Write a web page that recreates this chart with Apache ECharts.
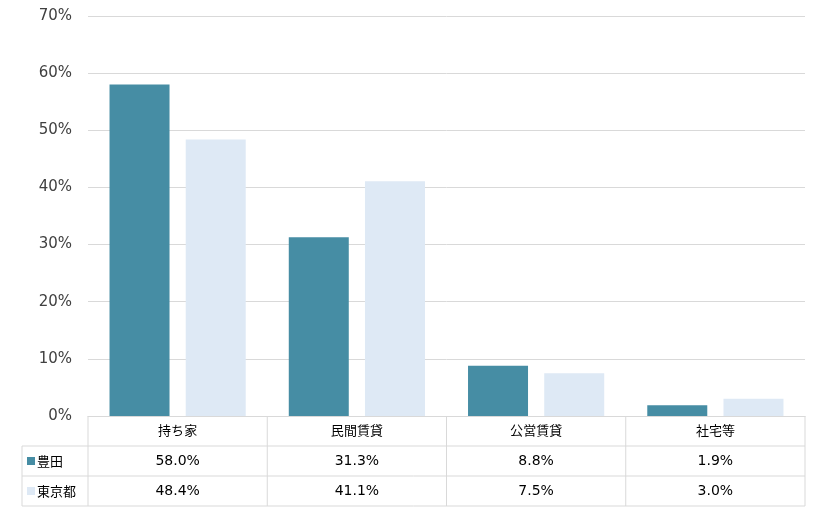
<!DOCTYPE html>
<html><head><meta charset="utf-8">
<script src="https://cdn.jsdelivr.net/npm/echarts@6/dist/echarts.min.js"></script>
<style>html,body{margin:0;padding:0;background:#fff}#c{width:820px;height:510px}</style>
</head><body><div id="c"></div>
<script>
const categories = ['持ち家','民間賃貸','公営賃貸','社宅等'];
const seriesNames = ['豊田','東京都'];
const toyota = [58.0, 31.3, 8.8, 1.9];
const tokyo = [48.4, 41.1, 7.5, 3.0];
const colors = ['#468DA4','#DEE9F5'];
const font = '"Noto Sans CJK JP", "DejaVu Sans", sans-serif';

const chart = echarts.init(document.getElementById('c'));
const L = 88, R = 805, T = 16, B = 416, rowH = 30, legX = 22;
chart.setOption({
  animation:false,
  grid:{left:L, right:820-R, top:T, bottom:510-B, containLabel:false},
  xAxis:{type:'category', data:categories,
    axisLine:{show:true,lineStyle:{color:'#d9d9d9'}}, axisTick:{show:false},
    axisLabel:{color:'#000', fontSize:13, fontFamily:font, margin:8}},
  yAxis:{type:'value', min:0, max:70, interval:10,
    axisLabel:{formatter:'{value}%', color:'#404040', fontSize:15, fontFamily:'"DejaVu Sans", sans-serif', margin:16},
    splitLine:{lineStyle:{color:'#d9d9d9'}}, axisLine:{show:false}, axisTick:{show:false}},
  series:[
    {name:seriesNames[0], type:'bar', data:toyota, barWidth:60, barGap:'27%', itemStyle:{color:colors[0]}},
    {name:seriesNames[1], type:'bar', data:tokyo, barWidth:60, itemStyle:{color:colors[1]}}
  ]
});

const g = [];
const lc = '#d9d9d9';
const line = (x1,y1,x2,y2)=>g.push({type:'line',shape:{x1,y1,x2,y2},style:{stroke:lc,lineWidth:1}});
// horizontal lines
line(L,B+rowH,R,B+rowH); line(legX,B+rowH,L,B+rowH);
line(legX,B+2*rowH,R,B+2*rowH); line(legX,B+3*rowH,R,B+3*rowH);
// vertical lines
const xs=[L]; const w=(R-L)/categories.length;
for(let i=1;i<=categories.length;i++) xs.push(L+i*w);
xs.forEach(x=>line(x,B,x,B+3*rowH));
line(legX,B+rowH,legX,B+3*rowH);
[toyota,tokyo].forEach((arr,r)=>{
  const yc = B+rowH*(r+1)+rowH/2;
  g.push({type:'rect',shape:{x:legX+5,y:yc-4,width:8,height:8},style:{fill:colors[r]}});
  g.push({type:'text',x:legX+15,y:yc,style:{text:seriesNames[r],fill:'#000',font:'13px '+font,textVerticalAlign:'middle'}});
  arr.forEach((v,i)=>{
    const x = chart.convertToPixel({xAxisIndex:0}, categories[i]);
    g.push({type:'text',x,y:yc,style:{text:v.toFixed(1)+'%',fill:'#000',font:'14px "DejaVu Sans", sans-serif',textAlign:'center',textVerticalAlign:'middle'}});
  });
});
chart.setOption({graphic:g});
</script></body></html>
